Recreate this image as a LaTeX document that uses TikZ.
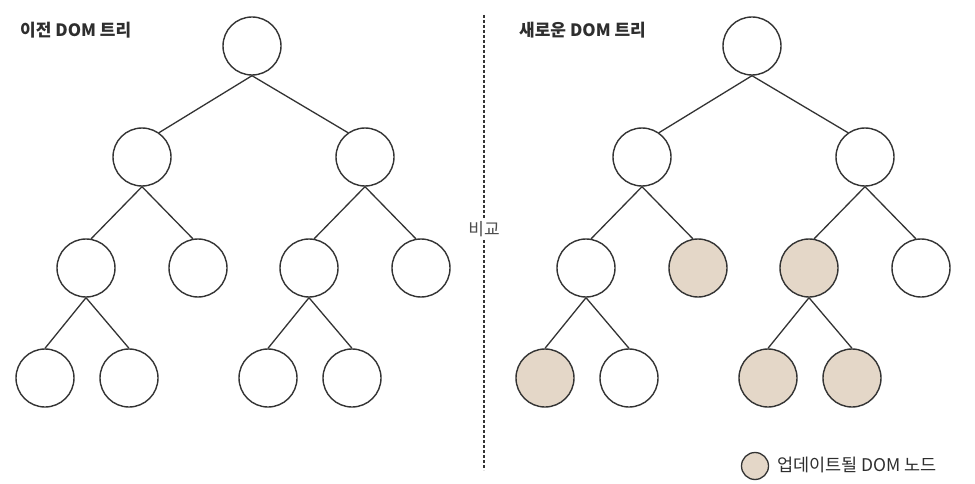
\documentclass[tikz,border=0pt]{standalone}
\usepackage{fontspec}
\setmainfont{Noto Sans CJK KR}
\begin{document}
\begin{tikzpicture}[x=1pt,y=-1pt,
  dom/.style={circle,draw=linec,line width=1.4pt,minimum size=58pt,inner sep=0pt,fill=white},
  upd/.style={dom,fill=updc},
  edge/.style={draw=linec,line width=1.3pt},
  title/.style={anchor=west,font=\fontsize{17}{19}\selectfont\bfseries,text=textc,inner sep=0pt}]
\definecolor{linec}{HTML}{333333}
\definecolor{textc}{HTML}{2E2E2E}
\definecolor{updc}{HTML}{E4D7C8}
\useasboundingbox (0,0) rectangle (975,484);
\fill[white] (0,0) rectangle (975,484);
% divider
\coordinate (dtop) at (484,15);
\coordinate (dbot) at (484,470);
\draw[linec,line width=1.2pt,dash pattern=on 3pt off 2pt] (dtop) -- (dbot);
\node[fill=white,inner sep=3pt,text=textc!85,font=\fontsize{17}{19}\selectfont] (cmp) at (484,229) {비교};
% titles
\node[title] (t1) at (20,30) {이전 DOM 트리};
\node[title] (t2) at (519,30) {새로운 DOM 트리};
% left tree
\node[dom] (a) at (252,46) {};
\node[dom] (a1) at (142,157) {};
\node[dom] (a2) at (365,157) {};
\node[dom] (a11) at (86,268) {};
\node[dom] (a12) at (198,268) {};
\node[dom] (a21) at (309,268) {};
\node[dom] (a22) at (421,268) {};
\node[dom] (a111) at (45,378) {};
\node[dom] (a112) at (129,378) {};
\node[dom] (a211) at (268,378) {};
\node[dom] (a212) at (352,378) {};
\draw[edge] (a.south) -- (a1.55);
\draw[edge] (a.south) -- (a2.125);
\draw[edge] (a1.south) -- (a11.80);
\draw[edge] (a1.south) -- (a12.100);
\draw[edge] (a2.south) -- (a21.80);
\draw[edge] (a2.south) -- (a22.100);
\draw[edge] (a11.south) -- (a111.north);
\draw[edge] (a11.south) -- (a112.north);
\draw[edge] (a21.south) -- (a211.north);
\draw[edge] (a21.south) -- (a212.north);
% right tree
\node[dom] (b) at (752,46) {};
\node[dom] (b1) at (642,157) {};
\node[dom] (b2) at (865,157) {};
\node[dom] (b11) at (586,268) {};
\node[upd] (b12) at (698,268) {};
\node[upd] (b21) at (809,268) {};
\node[dom] (b22) at (921,268) {};
\node[upd] (b111) at (545,378) {};
\node[dom] (b112) at (629,378) {};
\node[upd] (b211) at (768,378) {};
\node[upd] (b212) at (852,378) {};
\draw[edge] (b.south) -- (b1.55);
\draw[edge] (b.south) -- (b2.125);
\draw[edge] (b1.south) -- (b11.80);
\draw[edge] (b1.south) -- (b12.100);
\draw[edge] (b2.south) -- (b21.80);
\draw[edge] (b2.south) -- (b22.100);
\draw[edge] (b11.south) -- (b111.north);
\draw[edge] (b11.south) -- (b112.north);
\draw[edge] (b21.south) -- (b211.north);
\draw[edge] (b21.south) -- (b212.north);
% legend
\node[upd,minimum size=27pt,line width=1.3pt] (leg) at (755,466) {};
\node[anchor=west,inner sep=0pt,text=textc,font=\fontsize{17.5}{19}\selectfont] (legt) at (777,465) {업데이트될 DOM 노드};
\end{tikzpicture}
\end{document}
